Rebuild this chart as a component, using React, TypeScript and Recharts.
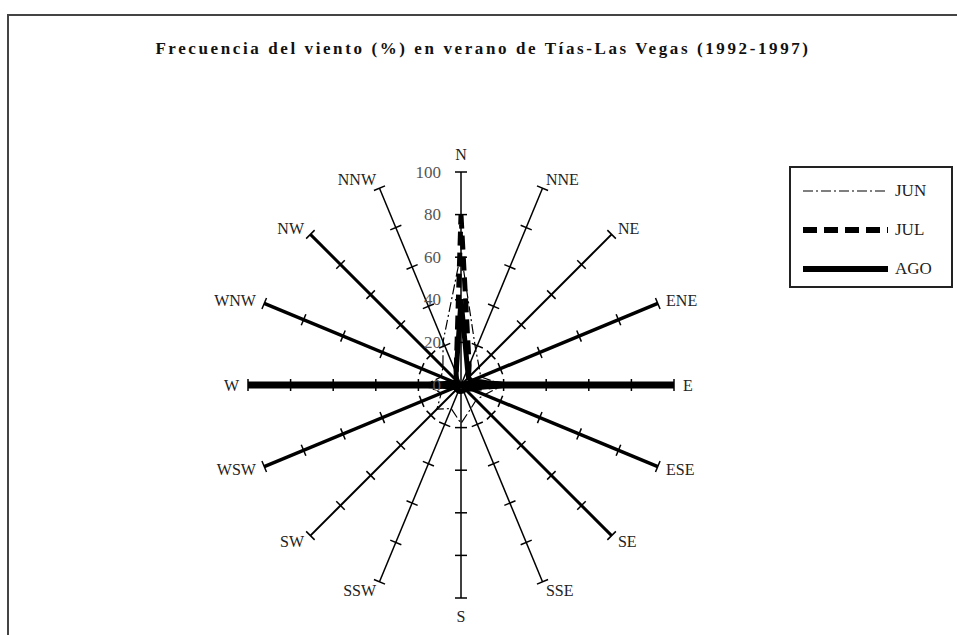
import { RadarChart, Radar, PolarAngleAxis, PolarRadiusAxis, Legend } from 'recharts'

// wind directions, clockwise from north
const directions = ['N', 'NNE', 'NE', 'ENE', 'E', 'ESE', 'SE', 'SSE', 'S', 'SSW', 'SW', 'WSW', 'W', 'WNW', 'NW', 'NNW']
// frequency (%) per month
const jun = [62, 18, 12, 10, 20, 12, 10, 12, 18, 12, 16, 10, 17, 10, 12, 22]
const jul = [80, 10, 5, 5, 22, 5, 3, 3, 3, 3, 3, 3, 18, 3, 3, 6]
const ago = [40, 8, 5, 5, 22, 4, 3, 3, 3, 3, 3, 3, 15, 3, 3, 6]
const radiusTicks = [0, 20, 40, 60, 80, 100]
const seriesNames = ['JUN', 'JUL', 'AGO']

const data = directions.map((dir, i) => ({ dir, JUN: jun[i], JUL: jul[i], AGO: ago[i] }))

const W = 957
const H = 635
const CX = 461
const CY = 385
const R = 213
const FONT = '"Liberation Serif", "Times New Roman", serif'

// spoke thickness, same order as directions
const spokeWidth = [1.5, 1.5, 2, 3.5, 7, 3.5, 3, 1.5, 1.5, 1.5, 2, 3.5, 7, 3.5, 3, 1.5]

const seriesStyle: Record<string, { width: number; dash?: string }> = {
    JUN: { width: 1.2, dash: '10 3 2 3' },
    JUL: { width: 5, dash: '14 7' },
    AGO: { width: 5 },
}

const AngleTick = (props: any) => {
    const { payload, index } = props
    const a = (payload.coordinate * Math.PI) / 180
    const cos = Math.cos(a)
    const sin = Math.sin(a)
    const px = (r: number) => CX + r * cos
    const py = (r: number) => CY - r * sin
    const anchor = Math.abs(cos) < 0.1 ? 'middle' : cos > 0 ? 'start' : 'end'
    const lr = Math.abs(cos) < 0.1 ? R + 18 : R + 9
    return (
        <g>
            <line x1={CX} y1={CY} x2={px(R)} y2={py(R)} stroke='#000' strokeWidth={spokeWidth[index]} />
            {radiusTicks.slice(1).map((v) => {
                const r = (R * v) / 100
                const h = 6
                return (
                    <line
                        key={v}
                        x1={px(r) - h * sin}
                        y1={py(r) - h * cos}
                        x2={px(r) + h * sin}
                        y2={py(r) + h * cos}
                        stroke='#000'
                        strokeWidth={1.5}
                    />
                )
            })}
            <text
                x={px(lr)}
                y={py(lr)}
                textAnchor={anchor}
                dominantBaseline='central'
                fontFamily={FONT}
                fontSize={16}
                fill='#222'
            >
                {payload.value}
            </text>
        </g>
    )
}

const RadiusTick = (props: any) => {
    const { x, y, payload } = props
    return (
        <text x={x - 20} y={y} textAnchor='end' dominantBaseline='central' fontFamily={FONT} fontSize={17} fill='#555'>
            {payload.value}
        </text>
    )
}

const LegendBox = (props: any) => {
    const items = ((props.payload || []) as any[])
        .slice()
        .sort((p, q) => seriesNames.indexOf(p.value) - seriesNames.indexOf(q.value))
    return (
        <div style={{ border: '2px solid #222', width: 164, height: 122, background: '#fff', boxSizing: 'border-box', paddingTop: 3 }}>
            {items.map((it) => {
                const s = seriesStyle[it.value]
                return (
                    <div key={it.value} style={{ display: 'flex', alignItems: 'center', height: 39 }}>
                        <svg width={104} height={20}>
                            <line x1={12} y1={10} x2={97} y2={10} stroke='#000' strokeWidth={s.width < 2 ? 1.2 : 6} strokeDasharray={s.dash} />
                        </svg>
                        <span style={{ fontFamily: FONT, fontSize: 17, color: '#222' }}>{it.value}</span>
                    </div>
                )
            })}
        </div>
    )
}

const App = () => {
    return (
        <div style={{ position: 'absolute', left: 0, top: 0, width: W, height: H, overflow: 'hidden', background: '#fff' }}>
            <div
                style={{
                    position: 'absolute',
                    left: 7,
                    top: 14,
                    width: 1000,
                    height: 700,
                    border: '2px solid #444',
                }}
            />
            <div
                style={{
                    position: 'absolute',
                    left: 0,
                    top: 39,
                    width: 966,
                    textAlign: 'center',
                    fontFamily: FONT,
                    fontWeight: 'bold',
                    fontSize: 17,
                    letterSpacing: 2.6,
                    color: '#111',
                }}
            >
                Frecuencia del viento (%) en verano de Tías-Las Vegas (1992-1997)
            </div>
            <div style={{ position: 'absolute', left: 0, top: 0 }}>
                <RadarChart width={W} height={H} data={data} cx={CX} cy={CY} outerRadius={R} margin={{ top: 0, right: 0, bottom: 0, left: 0 }}>
                    <PolarAngleAxis dataKey='dir' axisLine={false} tickLine={false} tick={<AngleTick />} />
                    <PolarRadiusAxis angle={90} domain={[0, 100]} ticks={radiusTicks} axisLine={false} tick={<RadiusTick />} />
                    {seriesNames.map((name) => (
                        <Radar
                            key={name}
                            name={name}
                            dataKey={name}
                            stroke='#000'
                            strokeWidth={seriesStyle[name].width}
                            strokeDasharray={seriesStyle[name].dash}
                            fill='none'
                            fillOpacity={0}
                            dot={false}
                            isAnimationActive={false}
                        />
                    ))}
                    <Legend
                        content={<LegendBox />}
                        wrapperStyle={{ position: 'absolute', left: 789, top: 166, right: 'auto', bottom: 'auto', width: 164, height: 122 }}
                    />
                </RadarChart>
            </div>
        </div>
    )
}

export default App
